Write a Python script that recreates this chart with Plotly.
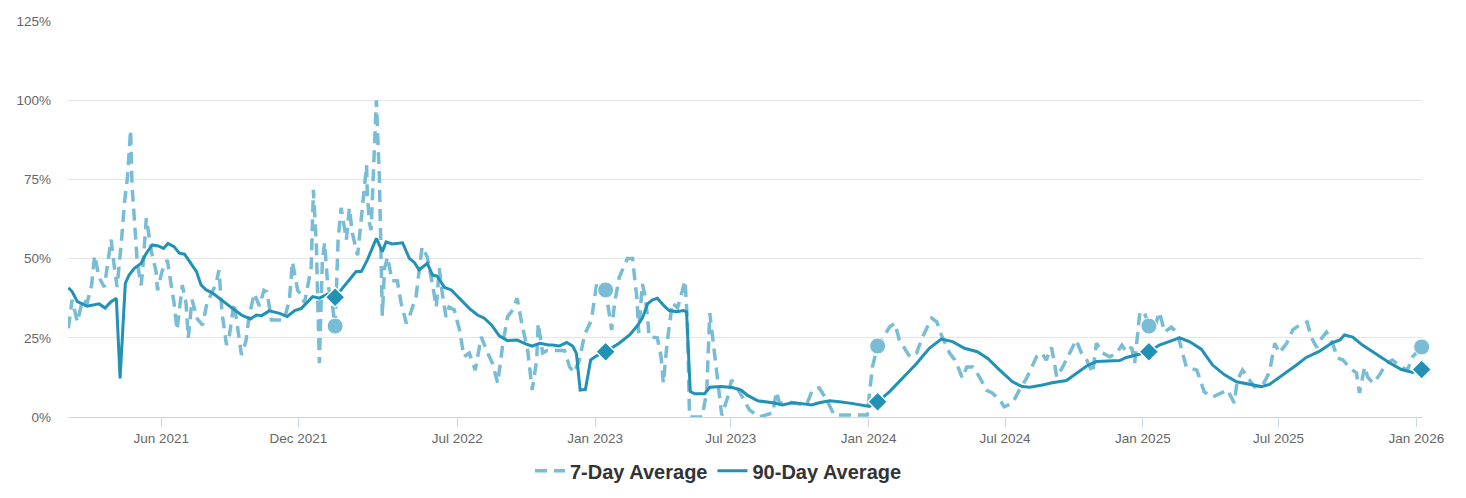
import plotly.graph_objects as go

# ---------------- data ----------------
seven_day_dates = [
    "2021-01-28", "2021-02-02", "2021-02-09", "2021-02-16", "2021-02-22", "2021-02-28", "2021-03-04",
    "2021-03-10", "2021-03-17", "2021-03-21", "2021-03-26", "2021-03-30", "2021-04-03", "2021-04-09",
    "2021-04-13", "2021-04-17", "2021-04-21", "2021-04-23", "2021-04-27", "2021-04-30", "2021-05-05",
    "2021-05-07", "2021-05-12", "2021-05-19", "2021-05-25", "2021-05-27", "2021-06-02", "2021-06-09",
    "2021-06-14", "2021-06-18", "2021-06-22", "2021-06-29", "2021-07-04", "2021-07-07", "2021-07-12",
    "2021-07-19", "2021-07-26", "2021-08-01", "2021-08-13", "2021-08-17", "2021-08-21", "2021-08-27",
    "2021-08-31", "2021-09-06", "2021-09-10", "2021-09-16", "2021-09-22", "2021-09-26", "2021-10-03",
    "2021-10-10", "2021-10-16", "2021-10-20", "2021-10-26", "2021-11-03", "2021-11-12", "2021-11-19",
    "2021-11-23", "2021-11-30", "2021-12-06", "2021-12-09", "2021-12-13", "2021-12-18", "2021-12-21",
    "2021-12-25", "2021-12-26", "2021-12-29", "2022-01-02", "2022-01-05", "2022-01-09", "2022-01-15",
    "2022-01-19", "2022-01-23", "2022-01-27", "2022-02-03", "2022-02-07", "2022-02-11", "2022-02-18",
    "2022-02-24", "2022-03-02", "2022-03-03", "2022-03-06", "2022-03-08", "2022-03-12", "2022-03-15",
    "2022-03-19", "2022-03-22", "2022-03-23", "2022-03-26", "2022-03-30", "2022-04-05", "2022-04-12",
    "2022-04-17", "2022-04-24", "2022-04-28", "2022-05-07", "2022-05-15", "2022-05-22", "2022-05-29",
    "2022-06-03", "2022-06-07", "2022-06-11", "2022-06-16", "2022-06-20", "2022-06-27", "2022-07-04",
    "2022-07-10", "2022-07-17", "2022-07-25", "2022-08-02", "2022-08-09", "2022-08-17", "2022-08-24",
    "2022-08-31", "2022-09-06", "2022-09-13", "2022-09-19", "2022-09-25", "2022-10-03", "2022-10-09",
    "2022-10-15", "2022-10-17", "2022-10-23", "2022-10-29", "2022-11-10", "2022-11-21", "2022-11-28",
    "2022-12-04", "2022-12-11", "2022-12-18", "2022-12-27", "2022-12-31", "2023-01-03", "2023-01-15",
    "2023-01-23", "2023-01-27", "2023-02-02", "2023-02-13", "2023-02-20", "2023-02-22", "2023-02-26",
    "2023-02-28", "2023-03-05", "2023-03-08", "2023-03-12", "2023-03-14", "2023-03-25", "2023-03-30",
    "2023-04-02", "2023-04-07", "2023-04-14", "2023-04-21", "2023-04-26", "2023-05-01", "2023-05-04",
    "2023-05-07", "2023-05-24", "2023-05-30", "2023-06-03", "2023-06-07", "2023-06-12", "2023-06-19",
    "2023-06-27", "2023-07-02", "2023-07-09", "2023-07-26", "2023-08-08", "2023-08-26", "2023-08-31",
    "2023-09-04", "2023-09-17", "2023-09-27", "2023-10-10", "2023-10-18", "2023-10-27", "2023-11-06",
    "2023-11-16", "2023-12-30", "2024-01-06", "2024-01-13", "2024-01-29", "2024-02-05", "2024-02-11",
    "2024-02-25", "2024-03-05", "2024-03-13", "2024-03-25", "2024-04-01", "2024-04-07", "2024-04-18",
    "2024-04-25", "2024-05-01", "2024-05-05", "2024-05-11", "2024-05-19", "2024-05-28", "2024-06-06",
    "2024-06-14", "2024-06-24", "2024-06-30", "2024-07-11", "2024-07-20", "2024-07-30", "2024-08-12",
    "2024-08-19", "2024-08-25", "2024-09-01", "2024-09-05", "2024-09-08", "2024-09-16", "2024-09-25",
    "2024-10-04", "2024-10-11", "2024-10-18", "2024-10-26", "2024-10-31", "2024-11-08", "2024-11-18",
    "2024-11-27", "2024-12-04", "2024-12-10", "2024-12-17", "2024-12-21", "2024-12-24", "2024-12-28",
    "2025-01-03", "2025-01-09", "2025-01-17", "2025-01-23", "2025-01-30", "2025-02-08", "2025-02-16",
    "2025-02-22", "2025-02-28", "2025-03-14", "2025-03-18", "2025-03-24", "2025-04-04", "2025-04-24",
    "2025-05-03", "2025-05-07", "2025-05-14", "2025-05-21", "2025-05-30", "2025-06-10", "2025-06-19",
    "2025-06-26", "2025-07-02", "2025-07-12", "2025-07-20", "2025-07-29", "2025-08-08", "2025-08-14",
    "2025-08-21", "2025-08-28", "2025-09-03", "2025-09-11", "2025-09-18", "2025-09-25", "2025-10-04",
    "2025-10-13", "2025-10-17", "2025-10-24", "2025-10-28", "2025-11-04", "2025-11-13", "2025-11-22",
    "2025-11-30", "2025-12-12", "2025-12-20", "2025-12-27", "2026-01-08",
]
seven_day_values = [
    28, 37, 30, 37, 36, 41.6, 51,
    44, 41, 47.6, 56, 48, 41, 56,
    68, 76, 90.6, 73, 59, 48.6, 41.6,
    46, 62.8, 52, 46, 40, 46, 49.6,
    42, 36, 27.5, 41.6, 36, 25, 37,
    31, 29, 36, 42, 46.4, 33, 22.7,
    26, 36, 29.6, 19.6, 24, 31.6, 39,
    35, 40, 39.5, 30.6, 30.6, 30.6, 37,
    49, 40, 38, 36, 41, 47, 71.7,
    54, 44, 17, 49.6, 55, 42, 36,
    28.7, 56, 66, 56, 66, 58, 51,
    65, 79.5, 70, 61, 59, 82, 100,
    75.8, 48.6, 32, 47, 50.5, 43, 43,
    36, 29.6, 31.6, 38, 53.7, 50.5, 41.7,
    34.7, 47, 39, 31.6, 34.7, 33.8, 27.5,
    19, 20.2, 14.8, 25.3, 21, 17, 10.7,
    23.3, 31.6, 33.8, 37.5, 29.6, 21, 8.5,
    18, 29.6, 20.2, 21, 21, 21, 15.8,
    14, 18, 26, 30.6, 37, 42, 40.1,
    27.5, 36, 44, 50, 50, 45.5, 37,
    26.5, 42, 39, 31.6, 25.3, 25, 19,
    10.7, 23.3, 36, 34.4, 39, 43, 30.6,
    0, 0, 8.5, 32.8, 24.3, 14.8, 0.5,
    6.3, 11.7, 9.5, 2.2, 0, 1.3, 8,
    4.4, 4.7, 4.4, 3.8, 8.5, 9.2, 5.4,
    0.6, 0.6, 15.8, 22.4, 28.4, 29.6, 24.3,
    19, 20.2, 25.3, 31.2, 30, 25.9, 20.2,
    18, 14.8, 12.3, 15.8, 15.8, 12.6, 8.5,
    7.6, 5.4, 3.2, 4.4, 8.5, 12.3, 19,
    20.2, 18, 22, 17, 12.6, 15.8, 20.2,
    24.3, 20.2, 18, 13.9, 23.3, 20.2, 19,
    20.2, 22.7, 20.5, 22, 17, 24.3, 33.1,
    33.1, 28.7, 28.4, 33.1, 26.8, 28.4, 26.5,
    21, 15.8, 14.8, 11.7, 7.9, 6.3, 8.5,
    4.4, 11.7, 14.8, 12.6, 9.5, 10.1, 14.2,
    23.3, 20.2, 23.3, 27.5, 29, 30, 25,
    22, 25, 26.8, 23.3, 18.6, 18, 15.5,
    13.9, 7.6, 15.8, 12.6, 10.7, 13.3, 17,
    18, 15.8, 14.8, 19, 22.1,
]

ninety_day_dates = [
    "2021-01-28", "2021-02-02", "2021-02-09", "2021-02-22", "2021-03-10", "2021-03-18", "2021-03-26",
    "2021-04-02", "2021-04-07", "2021-04-14", "2021-04-19", "2021-04-26", "2021-05-05", "2021-05-12",
    "2021-05-20", "2021-05-28", "2021-06-04", "2021-06-10", "2021-06-18", "2021-06-25", "2021-07-02",
    "2021-07-11", "2021-07-18", "2021-07-24", "2021-07-31", "2021-08-08", "2021-08-17", "2021-08-27",
    "2021-09-04", "2021-09-16", "2021-09-28", "2021-10-06", "2021-10-13", "2021-10-23", "2021-11-06",
    "2021-11-16", "2021-11-26", "2021-12-05", "2021-12-11", "2021-12-20", "2021-12-29", "2022-01-09",
    "2022-01-19", "2022-01-29", "2022-02-07", "2022-02-16", "2022-02-23", "2022-03-03", "2022-03-15",
    "2022-03-23", "2022-03-28", "2022-04-05", "2022-04-19", "2022-04-28", "2022-05-05", "2022-05-11",
    "2022-05-22", "2022-05-29", "2022-06-04", "2022-06-14", "2022-06-23", "2022-07-04", "2022-07-17",
    "2022-07-28", "2022-08-06", "2022-08-16", "2022-08-26", "2022-09-06", "2022-09-19", "2022-10-01",
    "2022-10-09", "2022-10-19", "2022-10-31", "2022-11-05", "2022-11-14", "2022-11-24", "2022-12-02",
    "2022-12-07", "2022-12-12", "2022-12-19", "2022-12-26", "2023-01-03", "2023-01-15", "2023-02-02",
    "2023-02-16", "2023-02-26", "2023-03-05", "2023-03-12", "2023-03-18", "2023-03-25", "2023-04-04",
    "2023-04-10", "2023-04-20", "2023-04-29", "2023-05-03", "2023-05-08", "2023-05-14", "2023-05-27",
    "2023-06-03", "2023-06-18", "2023-07-03", "2023-07-15", "2023-07-23", "2023-08-06", "2023-08-26",
    "2023-09-08", "2023-09-21", "2023-10-01", "2023-10-17", "2023-10-27", "2023-11-10", "2023-11-23",
    "2023-12-09", "2024-01-02", "2024-01-13", "2024-01-29", "2024-02-15", "2024-03-05", "2024-03-22",
    "2024-04-07", "2024-04-22", "2024-05-08", "2024-05-25", "2024-06-08", "2024-06-24", "2024-07-11",
    "2024-07-24", "2024-08-03", "2024-08-20", "2024-09-02", "2024-09-21", "2024-10-05", "2024-10-18",
    "2024-10-31", "2024-11-18", "2024-12-01", "2024-12-10", "2024-12-24", "2025-01-01", "2025-01-09",
    "2025-01-23", "2025-02-06", "2025-02-19", "2025-03-04", "2025-03-20", "2025-04-04", "2025-04-20",
    "2025-05-06", "2025-05-24", "2025-06-08", "2025-06-19", "2025-07-07", "2025-07-25", "2025-08-07",
    "2025-08-25", "2025-09-11", "2025-09-21", "2025-09-27", "2025-10-08", "2025-10-21", "2025-11-09",
    "2025-11-26", "2025-12-12", "2025-12-27", "2026-01-08",
]
ninety_day_values = [
    40.8, 39.6, 36.4, 35, 35.7, 34.4, 36.4,
    37.5, 12.2, 42.2, 44.8, 46.9, 48.5, 51.7,
    54.3, 54, 53.2, 54.8, 53.8, 51.7, 51.4,
    48.5, 45.9, 41.7, 40.1, 39.2, 37.5, 35.9,
    34.3, 32.2, 30.9, 32.2, 32, 33.5, 32.7,
    31.7, 33.6, 34.3, 35.9, 38, 37.5, 38.8,
    37.8, 40.6, 43.2, 45.9, 45.9, 49.6, 56.4,
    52.2, 55.3, 54.6, 55, 50.1, 48.7, 46.4,
    48.5, 44.8, 44.5, 40.9, 40.1, 37.5, 34.3,
    32.2, 31.2, 29, 25.6, 24.1, 24.3, 23,
    22.4, 23.3, 22.7, 22.7, 22.4, 23.5, 22.4,
    20.1, 8.5, 8.7, 18, 19.3, 20.6, 23.3,
    25.9, 28.7, 31.2, 35.7, 36.9, 37.5, 34.8,
    33.6, 33.2, 33.6, 33.2, 8, 7.3, 7.3,
    9.4, 9.6, 9.3, 8.5, 6.9, 5.1, 4.5,
    3.8, 4.5, 4.3, 3.8, 4.5, 5.1, 4.8,
    4.3, 3.3, 4.8, 8, 12.2, 16.9, 21.7,
    24.6, 23.8, 21.7, 20.6, 18.5, 14.8, 11.1,
    9.6, 9.4, 10.1, 10.8, 11.5, 13.8, 16.1,
    17.5, 17.8, 17.8, 18.8, 19.6, 20.1, 20.6,
    22.7, 23.8, 25, 23.8, 21.4, 16.4, 13.3,
    11.1, 10.3, 9.6, 10.3, 13.3, 16.4, 18.8,
    20.8, 23.5, 24.3, 25.9, 25.2, 22.7, 19.6,
    17.1, 15, 14.1, 15,
]

# yearly highlighted points (same date on both series)
marker_dates = ["2022-01-19", "2023-01-15", "2024-01-13", "2025-01-09", "2026-01-08"]

tick_dates = ["2021-06-01", "2021-12-01", "2022-07-01", "2023-01-01", "2023-07-01",
              "2024-01-01", "2024-07-01", "2025-01-01", "2025-07-01", "2026-01-01"]
tick_labels = ["Jun 2021", "Dec 2021", "Jul 2022", "Jan 2023", "Jul 2023",
               "Jan 2024", "Jul 2024", "Jan 2025", "Jul 2025", "Jan 2026"]

y_ticks = [0, 25, 50, 75, 100, 125]

# ---------------- styling ----------------
LIGHT = "#78bcd6"
DARK = "#2191b6"
FONT = "Liberation Sans, Arial, sans-serif"

s7 = dict(zip(seven_day_dates, seven_day_values))
s90 = dict(zip(ninety_day_dates, ninety_day_values))

fig = go.Figure()

fig.add_trace(go.Scatter(
    x=seven_day_dates, y=seven_day_values, mode="lines", name="7-Day Average",
    line=dict(color=LIGHT, width=3.5, dash="12px,7px"),
))
fig.add_trace(go.Scatter(
    x=ninety_day_dates, y=ninety_day_values, mode="lines", name="90-Day Average",
    line=dict(color=DARK, width=3),
))
fig.add_trace(go.Scatter(
    x=marker_dates, y=[s7[d] for d in marker_dates], mode="markers", showlegend=False,
    marker=dict(symbol="circle", size=16, color=LIGHT, line=dict(color="white", width=1)),
    cliponaxis=False,
))
fig.add_trace(go.Scatter(
    x=marker_dates, y=[s90[d] for d in marker_dates], mode="markers", showlegend=False,
    marker=dict(symbol="diamond", size=15, color=DARK, line=dict(color="white", width=1.5)),
    cliponaxis=False,
))

# the page body has an 8px margin, so the figure is sized/offset to compensate
fig.update_layout(
    width=1450, height=482,
    margin=dict(l=60, r=36, t=13, b=73, autoexpand=False),
    paper_bgcolor="white", plot_bgcolor="white",
    font=dict(family=FONT, color="#666666", size=13),
    showlegend=True,
    legend=dict(
        orientation="h",
        xref="container", yref="container",
        x=0.49, xanchor="center", y=0.04, yanchor="middle",
        font=dict(family=FONT, size=20, color="#333333", weight="bold"),
        itemwidth=30, tracegroupgap=0,
    ),
    hovermode="x unified",
)

fig.update_xaxes(
    type="date", automargin=False,
    range=["2021-01-27 12:00", "2026-01-08 12:00"],
    showgrid=False, zeroline=False,
    showline=True, linecolor="#ccd6eb", linewidth=1,
    ticks="outside", ticklen=9, tickcolor="#ccd6eb", tickwidth=1,
    tickvals=tick_dates, ticktext=tick_labels,
    tickfont=dict(family=FONT, size=13.5, color="#666666"),
)
fig.update_yaxes(
    automargin=False,
    range=[0, 125], tickvals=y_ticks, ticktext=[f"{v}%" for v in y_ticks],
    showgrid=True, gridcolor="#e6e6e6", gridwidth=1,
    zeroline=False, showline=False, ticks="",
    ticklabelstandoff=16,
    tickfont=dict(family=FONT, size=13.5, color="#666666"),
)

fig.write_html("out.html")
